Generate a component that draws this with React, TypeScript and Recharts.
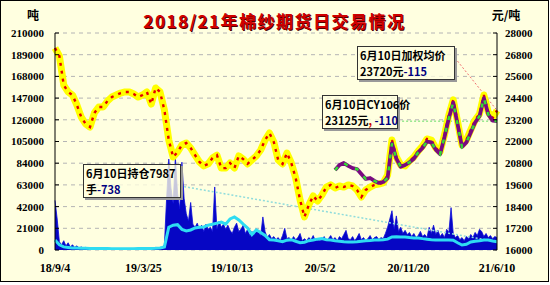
import React from 'react';
import { ComposedChart, Line, Area, XAxis, YAxis, CartesianGrid, ReferenceLine } from 'recharts';

const xTickDays = [0, 202, 404, 606, 808, 1010];
const xTickLabels = ['18/9/4', '19/3/25', '19/10/13', '20/5/2', '20/11/20', '21/6/10'];
const leftTicks = [0, 21000, 42000, 63000, 84000, 105000, 126000, 147000, 168000, 189000, 210000];
const rightTicks = [16000, 17200, 18400, 19600, 20800, 22000, 23200, 24400, 25600, 26800, 28000];

const volStepDays = 5;
const lastDay = 1010;

// daily volume (tons), sampled every 5 days
const volume = [
  48000, 30000, 8000, 5000, 9000, 4000, 7000, 3000, 5000, 2500,
  4000, 2000, 3000, 2000, 2500, 1500, 2500, 1500, 2000, 1500,
  2000, 1500, 1500, 2000, 1200, 1500, 1000, 1500, 1200, 1000,
  1200, 1000, 1500, 1000, 1200, 1000, 1500, 1000, 1200, 1000,
  1500, 1200, 1000, 1500, 1200, 1500, 2500, 1500, 1200, 2000,
  5000, 50000, 88000, 60000, 45000, 90000, 55000, 40000, 85000, 50000,
  35000, 28000, 46000, 25000, 22000, 26000, 20000, 24000, 18000, 25000,
  20000, 22000, 18000, 61000, 20000, 28000, 22000, 25000, 20000, 24000,
  19000, 16000, 22000, 26000, 18000, 20000, 24000, 16000, 20000, 14000,
  18000, 15000, 20000, 17000, 14000, 32000, 18000, 12000, 15000, 11000,
  13000, 10000, 12000, 9000, 14000, 21000, 11000, 12000, 9000, 13000,
  10000, 12000, 16000, 9000, 11000, 9000, 12000, 10000, 14000, 9000,
  11000, 9000, 10000, 13000, 9000, 11000, 14000, 10000, 12000, 9000,
  13000, 11000, 15000, 19000, 11000, 10000, 13000, 9000, 12000, 16000,
  10000, 12000, 9000, 11000, 14000, 10000, 12000, 13000, 10000, 12000,
  11000, 16000, 22000, 30000, 38000, 20000, 33000, 18000, 22000, 16000,
  19000, 15000, 17000, 13000, 16000, 12000, 14000, 18000, 13000, 15000,
  12000, 22000, 16000, 24000, 15000, 19000, 13000, 16000, 12000, 20000,
  17000, 41000, 16000, 12000, 14000, 10000, 12000, 9000, 13000, 11000,
  15000, 12000, 17000, 14000, 20000, 18000, 13000, 16000, 12000, 14000,
  11000, 13000, 12000,
];

// weighted average price (yuan/ton), sampled every 10 days
const avgPrice = [
  27170, 26730, 25120, 24740, 24570, 24020, 23350, 22970, 22800, 23580,
  23910, 23910, 24240, 24460, 24570, 24680, 24740, 24740, 24630, 24460,
  24570, 24740, 24070, 24960, 24740, 23740, 22080, 21140, 21420, 21810,
  21920, 21640, 21250, 20870, 20650, 20760, 21090, 21250, 20530, 20530,
  20810, 20530, 21200, 21030, 20760, 20980, 21200, 21530, 22080, 22470,
  21970, 20980, 20760, 21360, 20810, 19980, 18770, 17830, 18490, 18990,
  18710, 19040, 19480, 19600, 19430, 19540, 19480, 19600, 19540, 19320,
  18930, 19320, 19480, 19600, 19650, 19710, 20150, 22080, 21140, 20700,
  20650, 20920, 21140, 21470, 21750, 22140, 22080, 21640, 21420, 22360,
  23470, 24300, 23080, 21810, 22080, 22640, 23190, 23520, 24570, 23630,
  23300, 23720,
];

// open interest (lots), sampled every 10 days
const openInterest = [
  9700, 5000, 3000, 2500, 2000, 2000, 1800, 1800, 1500, 1500,
  1500, 1400, 1400, 1300, 1300, 1200, 1200, 1300, 1300, 1400,
  1400, 1500, 1500, 1600, 2000, 3000, 22000, 24000, 24500, 20000,
  18500, 19400, 21300, 22000, 22300, 24000, 25000, 26000, 27000, 25000,
  30000, 32000, 29000, 25000, 21300, 15000, 19400, 17000, 14000, 10000,
  9700, 9000, 8000, 9500, 10000, 8500, 7000, 7500, 9000, 9700,
  10500, 11000, 10000, 9700, 9000, 8500, 8000, 7700, 7700, 8000,
  8500, 9000, 9300, 9700, 9700, 10000, 10500, 12600, 12800, 12600,
  12600, 12000, 11600, 11600, 11000, 10500, 10000, 9700, 9700, 9700,
  9700, 9500, 7000, 4800, 5500, 7700, 8500, 9000, 9700, 9700,
  8700, 7987,
];

// CY2106 contract price, from sample index 64 onward
const cyStartIndex = 64;
const cyPrice = [
  20420, 20700, 20810, 20650, 20530, 20480, 20200, 19930, 19980, 19820,
  19710, 19760, 19980, 21900, 21050, 20600, 20700, 20850, 21050, 21400,
  21650, 22000, 21950, 21550, 21300, 22250, 23300, 24150, 22950, 21700,
  21950, 22500, 23050, 23400, 24400, 23500, 23150, 23125,
];

const lastAvgPrice = 23720;
const lastCyPrice = 23125;
const lastOI = 7987;
// annotation anchor points (where the leader lines leave the boxes)
const oiBoxAnchor = { day: 286, value: 62000 };
const avgBoxAnchor = { day: 914, value: 26620 };
const cyBoxAnchor = { day: 784 };

const rows = volume.map((v, j) => {
  const row: any = { day: Math.min(j * volStepDays, lastDay), vol: v };
  if (j % 2 === 0) {
    const i = j / 2;
    row.avg = avgPrice[i];
    row.oi = openInterest[i];
    if (i >= cyStartIndex) row.cy = cyPrice[i - cyStartIndex];
  }
  return row;
});

const tickFont = { fontSize: 11, fontWeight: 700, fill: '#000', fontFamily: 'Liberation Serif' };
const boxFont = "'Noto Sans CJK SC', sans-serif";

const XTick = (props: any) => {
  const { x, y, payload } = props;
  const idx = xTickDays.indexOf(payload.value);
  return (
    <text
      x={x}
      y={y}
      dy="0.71em"
      textAnchor="middle"
      fontSize={12}
      fontWeight={700}
      fontFamily="Liberation Serif"
      fill="#000"
    >
      {idx >= 0 ? xTickLabels[idx] : ''}
    </text>
  );
};

const boxStyle = (left: number, top: number, width: number, height: number): React.CSSProperties => ({
  position: 'absolute',
  left,
  top,
  width,
  height,
  boxSizing: 'border-box',
  border: '1px solid #333',
  background: 'rgba(255,255,224,0.78)',
  boxShadow: '2px 2px 0 #999',
  fontFamily: boxFont,
  fontWeight: 700,
  fontSize: 11,
  lineHeight: '16px',
  padding: '0px 2px',
  whiteSpace: 'nowrap',
  color: '#000',
});

export default function App() {
  return (
    <div style={{ position: 'absolute', left: 0, top: 0, width: 550, height: 285, background: '#fff' }}>
      <div
        style={{
          position: 'absolute',
          left: 0,
          top: 0,
          width: 549,
          height: 282,
          boxSizing: 'border-box',
          border: '1px solid #000',
          background: '#FFFFE0',
        }}
      />
      <div style={{ position: 'absolute', left: 0, top: 0 }}>
        <ComposedChart width={549} height={282} data={rows} margin={{ top: 33, right: 0, bottom: 12, left: 0 }}>
          <CartesianGrid vertical={false} stroke="#B4B4B4" strokeDasharray="4 4" />
          <XAxis
            dataKey="day"
            type="number"
            domain={[0, lastDay]}
            ticks={xTickDays}
            interval={0}
            axisLine={false}
            tickLine={false}
            tickSize={6}
            tickMargin={7}
            height={20}
            tick={<XTick />}
          />
          <YAxis
            domain={[0, 210000]}
            ticks={leftTicks}
            interval={0}
            width={55}
            tickSize={-4}
            tickMargin={15}
            axisLine={{ stroke: '#000' }}
            tickLine={{ stroke: '#000' }}
            tick={tickFont}
            allowDataOverflow
          />
          <YAxis
            yAxisId="right"
            orientation="right"
            domain={[16000, 28000]}
            ticks={rightTicks}
            interval={0}
            width={52}
            tickSize={-4}
            tickMargin={12}
            axisLine={{ stroke: '#000' }}
            tickLine={{ stroke: '#000' }}
            tick={tickFont}
            allowDataOverflow
          />
          <Area
            dataKey="vol"
            type="linear"
            stroke="#0A0ADC"
            strokeWidth={0.8}
            fill="#0606C4"
            fillOpacity={1}
            isAnimationActive={false}
            dot={false}
            activeDot={false}
          />
          <ReferenceLine
            segment={[{ x: oiBoxAnchor.day, y: oiBoxAnchor.value }, { x: lastDay, y: lastOI }]}
            stroke="#8FDCDC"
            strokeWidth={1.5}
            strokeDasharray="2 2"
            ifOverflow="visible"
          />
          <ReferenceLine
            yAxisId="right"
            segment={[{ x: cyBoxAnchor.day, y: lastCyPrice }, { x: lastDay, y: lastCyPrice }]}
            stroke="#66DD66"
            strokeWidth={1}
            strokeDasharray="2 2"
            ifOverflow="visible"
          />
          <ReferenceLine
            yAxisId="right"
            segment={[{ x: avgBoxAnchor.day, y: avgBoxAnchor.value }, { x: lastDay, y: lastAvgPrice }]}
            stroke="#F07070"
            strokeWidth={1}
            strokeDasharray="2 2"
            ifOverflow="visible"
          />
          <Line
            dataKey="oi"
            type="linear"
            stroke="#2EDCF2"
            strokeWidth={3}
            dot={false}
            activeDot={false}
            connectNulls
            isAnimationActive={false}
          />
          <Line
            yAxisId="right"
            dataKey="avg"
            type="linear"
            stroke="#FFFF00"
            strokeWidth={7}
            strokeLinejoin="round"
            dot={false}
            activeDot={false}
            connectNulls
            isAnimationActive={false}
          />
          <Line
            yAxisId="right"
            dataKey="avg"
            type="linear"
            stroke="#E60000"
            strokeWidth={2.4}
            strokeDasharray="3 5"
            dot={false}
            activeDot={false}
            connectNulls
            isAnimationActive={false}
          />
          <Line
            yAxisId="right"
            dataKey="cy"
            type="linear"
            stroke="#7A0A80"
            strokeWidth={3.8}
            strokeLinejoin="round"
            dot={false}
            activeDot={false}
            connectNulls
            isAnimationActive={false}
          />
          <Line
            yAxisId="right"
            dataKey="cy"
            type="linear"
            stroke="#33DD33"
            strokeWidth={2.5}
            strokeDasharray="4 8"
            dot={false}
            activeDot={false}
            connectNulls
            isAnimationActive={false}
          />
        </ComposedChart>
      </div>

      <div
        style={{
          position: 'absolute',
          left: 0,
          width: 549,
          top: 11,
          textAlign: 'center',
          fontFamily: boxFont,
          fontWeight: 700,
          fontSize: 17,
          lineHeight: '20px',
          letterSpacing: 1.5,
          color: '#D00000',
          textShadow: '1px 1px 0 #500000',
        }}
      >
        2018/21年棉纱期货日交易情况
      </div>
      <div
        style={{
          position: 'absolute',
          left: 23,
          width: 20,
          top: 7,
          textAlign: 'center',
          fontFamily: boxFont,
          fontWeight: 700,
          fontSize: 12,
          lineHeight: '16px',
        }}
      >
        吨
      </div>
      <div
        style={{
          position: 'absolute',
          left: 486,
          width: 40,
          top: 7,
          textAlign: 'center',
          fontFamily: boxFont,
          fontWeight: 700,
          fontSize: 12,
          lineHeight: '16px',
        }}
      >
        元/吨
      </div>

      <div style={boxStyle(83, 164, 98, 34)}>
        <div>6月10日持仓7987</div>
        <div>
          手<span style={{ color: '#000080' }}>-738</span>
        </div>
      </div>
      <div style={boxStyle(357, 46, 98, 34)}>
        <div>6月10日加权均价</div>
        <div>
          23720元<span style={{ color: '#000080' }}>-115</span>
        </div>
      </div>
      <div style={boxStyle(322, 95, 76, 34)}>
        <div>6月10日CY106价</div>
        <div>
          23125元<span style={{ color: '#D00000' }}>,</span>
          <span style={{ color: '#000080' }}> -110</span>
        </div>
      </div>
    </div>
  );
}
